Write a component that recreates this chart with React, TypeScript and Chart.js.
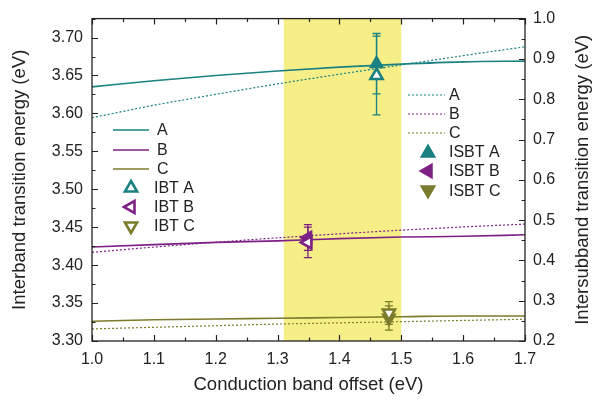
import React, { useEffect, useRef } from 'react';
import { Chart, registerables } from 'chart.js';

Chart.register(...registerables);

// ---- data ----
const offsets = [1.0, 1.1, 1.2, 1.3, 1.4, 1.5, 1.6, 1.7];
const ibtLineA = [3.635, 3.643, 3.65, 3.656, 3.661, 3.665, 3.668, 3.669];
const ibtLineB = [3.424, 3.427, 3.43, 3.432, 3.435, 3.437, 3.438, 3.44];
const ibtLineC = [3.326, 3.328, 3.329, 3.33, 3.331, 3.332, 3.333, 3.333];
const isbtLineA = [0.754, 0.785, 0.812, 0.838, 0.862, 0.885, 0.908, 0.93];
const isbtLineB = [0.42, 0.433, 0.445, 0.456, 0.466, 0.475, 0.483, 0.49];
const isbtLineC = [0.23, 0.234, 0.238, 0.242, 0.245, 0.248, 0.251, 0.254];

const ibtPointX = [1.46, 1.349, 1.48];
const ibtPointY = [3.65, 3.43, 3.337];
const ibtPointErr = [0.052, 0.02, 0.015];
const isbtPointX = [1.46, 1.349, 1.48];
const isbtPointY = [0.888, 0.457, 0.257];
const isbtPointErr = [0.075, 0.032, 0.03];

const bandRange = [1.31, 1.5];
const seriesNames = ['A', 'B', 'C'];
const xTitle = 'Conduction band offset (eV)';
const yLeftTitle = 'Interband transition energy (eV)';
const yRightTitle = 'Intersubband transition energy (eV)';

// ---- styles ----
const colors = ['#1a8080', '#7d2185', '#7b7b2c'];
const rotations = [0, -90, 180];
const FONT = '"Liberation Sans", Arial, sans-serif';
const INK = '#222222';
const TITLE_SIZE = 18.5;

function triangle(ctx: CanvasRenderingContext2D, x: number, y: number, r: number, rotDeg: number) {
  let rad = (rotDeg * Math.PI) / 180;
  const step = (2 * Math.PI) / 3;
  ctx.beginPath();
  ctx.moveTo(x + Math.sin(rad) * r, y - Math.cos(rad) * r);
  rad += step;
  ctx.lineTo(x + Math.sin(rad) * r, y - Math.cos(rad) * r);
  rad += step;
  ctx.lineTo(x + Math.sin(rad) * r, y - Math.cos(rad) * r);
  ctx.closePath();
}

function zip(xs: number[], ys: number[]) {
  return xs.map((x, i) => ({ x, y: ys[i] }));
}

const decorPlugin = {
  id: 'decor',
  beforeDatasetsDraw(chart: any) {
    const { ctx, chartArea: a, scales } = chart;
    const x = scales.x;
    ctx.save();
    ctx.fillStyle = '#f6ef87';
    const x0 = x.getPixelForValue(bandRange[0]);
    const x1 = x.getPixelForValue(bandRange[1]);
    ctx.fillRect(x0, a.top, x1 - x0, a.bottom - a.top);
    ctx.restore();
  },
  afterDatasetsDraw(chart: any) {
    const { ctx, chartArea: a, scales } = chart;
    const x = scales.x;
    const yl = scales.y;
    const yr = scales.y1;
    ctx.save();
    // error bars
    const bar = (px: number, lo: number, hi: number, col: string) => {
      ctx.strokeStyle = col;
      ctx.lineWidth = 1.3;
      ctx.beginPath();
      ctx.moveTo(px, lo);
      ctx.lineTo(px, hi);
      ctx.moveTo(px - 4, lo);
      ctx.lineTo(px + 4, lo);
      ctx.moveTo(px - 4, hi);
      ctx.lineTo(px + 4, hi);
      ctx.stroke();
    };
    for (let i = 0; i < 3; i++) {
      const px = x.getPixelForValue(ibtPointX[i]);
      bar(px, yl.getPixelForValue(ibtPointY[i] - ibtPointErr[i]), yl.getPixelForValue(ibtPointY[i] + ibtPointErr[i]), colors[i]);
      const qx = x.getPixelForValue(isbtPointX[i]);
      bar(qx, yr.getPixelForValue(isbtPointY[i] - isbtPointErr[i]), yr.getPixelForValue(isbtPointY[i] + isbtPointErr[i]), colors[i]);
    }
    // points on top of error bars
    for (let i = 0; i < 3; i++) {
      const qx = x.getPixelForValue(isbtPointX[i]);
      const qy = yr.getPixelForValue(isbtPointY[i]);
      triangle(ctx, qx, qy, 9, rotations[i]);
      ctx.fillStyle = colors[i];
      ctx.fill();
      const px = x.getPixelForValue(ibtPointX[i]);
      const py = yl.getPixelForValue(ibtPointY[i]);
      triangle(ctx, px, py, 7, rotations[i]);
      ctx.fillStyle = '#ffffff';
      ctx.fill();
      ctx.strokeStyle = colors[i];
      ctx.lineWidth = 2.6;
      ctx.stroke();
    }

    // frame
    ctx.strokeStyle = INK;
    ctx.lineWidth = 1.3;
    ctx.strokeRect(a.left, a.top, a.right - a.left, a.bottom - a.top);

    // ticks (inward)
    ctx.lineWidth = 1.2;
    ctx.beginPath();
    const hTicks = (scale: any, start: number, n: number, step: number, len: number) => {
      for (let k = 0; k <= n; k++) {
        const px = Math.round(scale.getPixelForValue(start + k * step)) + 0.5;
        if (px < a.left - 0.5 || px > a.right + 0.5) continue;
        ctx.moveTo(px, a.bottom);
        ctx.lineTo(px, a.bottom - len);
        ctx.moveTo(px, a.top);
        ctx.lineTo(px, a.top + len);
      }
    };
    const vTicks = (scale: any, start: number, n: number, step: number, len: number, left: boolean) => {
      for (let k = 0; k <= n; k++) {
        const py = Math.round(scale.getPixelForValue(start + k * step)) + 0.5;
        if (py < a.top - 0.5 || py > a.bottom + 0.5) continue;
        if (left) {
          ctx.moveTo(a.left, py);
          ctx.lineTo(a.left + len, py);
        } else {
          ctx.moveTo(a.right, py);
          ctx.lineTo(a.right - len, py);
        }
      }
    };
    hTicks(x, 1.0, 7, 0.1, 6);
    hTicks(x, 1.05, 6, 0.1, 3.5);
    vTicks(yl, 3.3, 8, 0.05, 6, true);
    vTicks(yl, 3.325, 8, 0.05, 3.5, true);
    vTicks(yr, 0.2, 8, 0.1, 6, false);
    vTicks(yr, 0.25, 7, 0.1, 3.5, false);
    ctx.stroke();

    // right axis title, reading bottom-to-top
    ctx.font = `${TITLE_SIZE}px ${FONT}`;
    ctx.fillStyle = INK;
    ctx.textAlign = 'center';
    ctx.textBaseline = 'middle';
    ctx.save();
    ctx.translate(583, (a.top + a.bottom) / 2);
    ctx.rotate(-Math.PI / 2);
    ctx.fillText(yRightTitle, 0, 0);
    ctx.restore();

    // legends
    ctx.font = `16px ${FONT}`;
    ctx.textBaseline = 'middle';
    ctx.textAlign = 'left';
    const leftRows = [130, 150, 169, 188, 207, 226];
    const rightRows = [95, 114, 133, 152, 171, 191];
    for (let i = 0; i < 3; i++) {
      ctx.strokeStyle = colors[i];
      ctx.lineWidth = 1.6;
      ctx.setLineDash([]);
      ctx.beginPath();
      ctx.moveTo(113, leftRows[i]);
      ctx.lineTo(149, leftRows[i]);
      ctx.stroke();
      ctx.fillStyle = INK;
      ctx.fillText(seriesNames[i], 157, leftRows[i] + 1);
      triangle(ctx, 131, leftRows[3 + i], 7, rotations[i]);
      ctx.fillStyle = '#ffffff';
      ctx.fill();
      ctx.lineWidth = 2.6;
      ctx.stroke();
      ctx.fillStyle = INK;
      ctx.fillText('IBT ' + seriesNames[i], 154, leftRows[3 + i] + 1);

      ctx.lineWidth = 1.2;
      ctx.setLineDash([2, 2]);
      ctx.beginPath();
      ctx.moveTo(408, rightRows[i]);
      ctx.lineTo(445, rightRows[i]);
      ctx.stroke();
      ctx.setLineDash([]);
      ctx.fillStyle = INK;
      ctx.fillText(seriesNames[i], 449, rightRows[i] + 1);
      triangle(ctx, 428, rightRows[3 + i] + (i === 0 ? 1 : i === 2 ? -1 : 0), 9.5, rotations[i]);
      ctx.fillStyle = colors[i];
      ctx.fill();
      ctx.fillStyle = INK;
      ctx.fillText('ISBT ' + seriesNames[i], 449, rightRows[3 + i] + 1);
    }
    ctx.restore();
  },
};

export default function App() {
  const ref = useRef<HTMLCanvasElement | null>(null);
  useEffect(() => {
    document.body.style.margin = '0';
    if (!ref.current) return;
    const lineDs = (data: number[], i: number, right: boolean) => ({
      type: 'line' as const,
      data: zip(offsets, data),
      yAxisID: right ? 'y1' : 'y',
      borderColor: colors[i],
      borderWidth: right ? 1.2 : 1.6,
      borderDash: right ? [2, 2] : [],
      pointRadius: 0,
      fill: false,
      cubicInterpolationMode: 'monotone' as const,
      order: 2,
    });
    const chart = new Chart(ref.current, {
      type: 'line',
      data: {
        datasets: [
          lineDs(ibtLineA, 0, false),
          lineDs(ibtLineB, 1, false),
          lineDs(ibtLineC, 2, false),
          lineDs(isbtLineA, 0, true),
          lineDs(isbtLineB, 1, true),
          lineDs(isbtLineC, 2, true),
        ],
      },
      options: {
        responsive: false,
        animation: false,
        events: [],
        layout: { padding: { top: 18, left: 0, right: 0, bottom: 0 } },
        plugins: { legend: { display: false }, tooltip: { enabled: false } },
        scales: {
          x: {
            type: 'linear',
            min: 1.0,
            max: 1.7,
            border: { display: false },
            grid: { display: false, drawTicks: false },
            ticks: {
              stepSize: 0.1,
              includeBounds: false,
              padding: 9,
              color: INK,
              font: { family: FONT, size: 16 },
              callback: (v: any) => Number(v).toFixed(1),
            },
            title: { display: true, text: xTitle, color: INK, font: { family: FONT, size: TITLE_SIZE }, padding: { top: 0, bottom: 6 } },
            afterFit: (s: any) => { s.height = 61; },
          },
          y: {
            type: 'linear',
            position: 'left',
            min: 3.3,
            max: 3.725,
            border: { display: false },
            grid: { display: false, drawTicks: false },
            ticks: {
              stepSize: 0.05,
              includeBounds: false,
              padding: 9,
              color: INK,
              font: { family: FONT, size: 16 },
              callback: (v: any) => Number(v).toFixed(2),
            },
            title: { display: true, text: yLeftTitle, color: INK, font: { family: FONT, size: TITLE_SIZE }, padding: { top: 9, bottom: 0 } },
            afterFit: (s: any) => { s.width = 92; },
          },
          y1: {
            type: 'linear',
            position: 'right',
            min: 0.2,
            max: 1.0,
            border: { display: false },
            grid: { display: false, drawTicks: false },
            ticks: {
              stepSize: 0.1,
              includeBounds: false,
              padding: 8,
              color: INK,
              font: { family: FONT, size: 16 },
              callback: (v: any) => Number(v).toFixed(1),
            },
            title: { display: false },
            afterFit: (s: any) => { s.width = 73; },
          },
        },
      } as any,
      plugins: [decorPlugin],
    });
    return () => chart.destroy();
  }, []);
  return <canvas ref={ref} width={598} height={402} style={{ display: 'block' }} />;
}
